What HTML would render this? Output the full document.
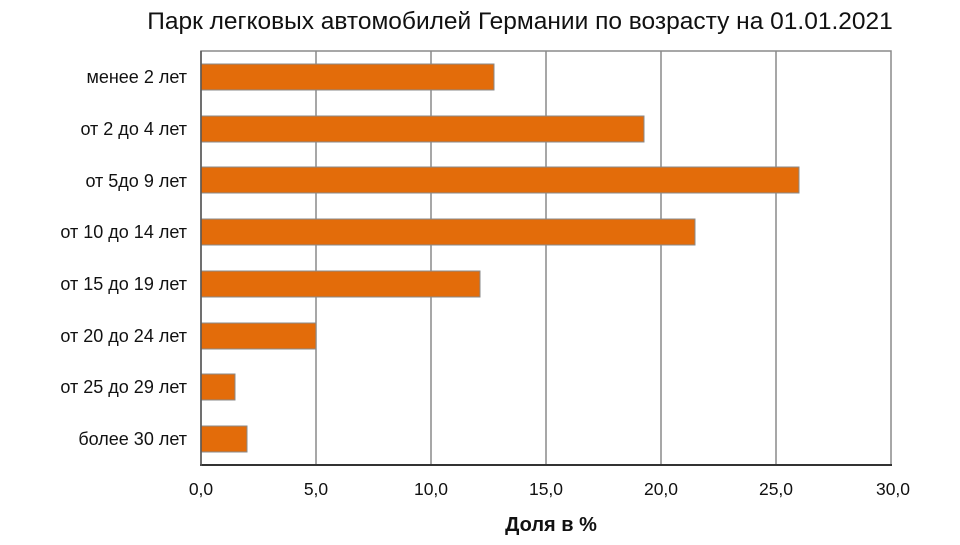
<!DOCTYPE html>
<html><head><meta charset="utf-8"><style>body{margin:0;background:#fff}</style></head><body>
<svg width="960" height="540" xmlns="http://www.w3.org/2000/svg" font-family="Liberation Sans, sans-serif">
<rect width="960" height="540" fill="#fff"/>
<text x="520" y="29" font-size="24.5" text-anchor="middle" fill="#111">Парк легковых автомобилей Германии по возрасту на 01.01.2021</text>
<g stroke="#8a8a8a" stroke-width="1.5">
<line x1="316" y1="51" x2="316" y2="465"/><line x1="431" y1="51" x2="431" y2="465"/>
<line x1="546" y1="51" x2="546" y2="465"/><line x1="661" y1="51" x2="661" y2="465"/>
<line x1="776" y1="51" x2="776" y2="465"/>
<rect x="201" y="51" width="690" height="414" fill="none"/>
</g>
<g fill="#e36c0a" stroke="#8a8a8a" stroke-width="1">
<rect x="201" y="64" width="293" height="26"/>
<rect x="201" y="116" width="443" height="26"/>
<rect x="201" y="167" width="598" height="26"/>
<rect x="201" y="219" width="494" height="26"/>
<rect x="201" y="271" width="279" height="26"/>
<rect x="201" y="323" width="115" height="26"/>
<rect x="201" y="374" width="34" height="26"/>
<rect x="201" y="426" width="46" height="26"/>
</g>
<line x1="200" y1="465" x2="892" y2="465" stroke="#333" stroke-width="2"/>
<line x1="201" y1="51" x2="201" y2="466" stroke="#555" stroke-width="1.5"/>
<g font-size="18" fill="#111" text-anchor="end">
<text x="187" y="83">менее 2 лет</text>
<text x="187" y="135">от 2 до 4 лет</text>
<text x="187" y="187">от 5до 9 лет</text>
<text x="187" y="238">от 10 до 14 лет</text>
<text x="187" y="290">от 15 до 19 лет</text>
<text x="187" y="342">от 20 до 24 лет</text>
<text x="187" y="393">от 25 до 29 лет</text>
<text x="187" y="445">более 30 лет</text>
</g>
<g font-size="17.5" fill="#111" text-anchor="middle">
<text x="201" y="495">0,0</text><text x="316" y="495">5,0</text><text x="431" y="495">10,0</text>
<text x="546" y="495">15,0</text><text x="661" y="495">20,0</text><text x="776" y="495">25,0</text><text x="893" y="495">30,0</text>
</g>
<text x="551" y="531" font-size="20" font-weight="bold" text-anchor="middle" fill="#111">Доля в %</text>
</svg>
</body></html>
